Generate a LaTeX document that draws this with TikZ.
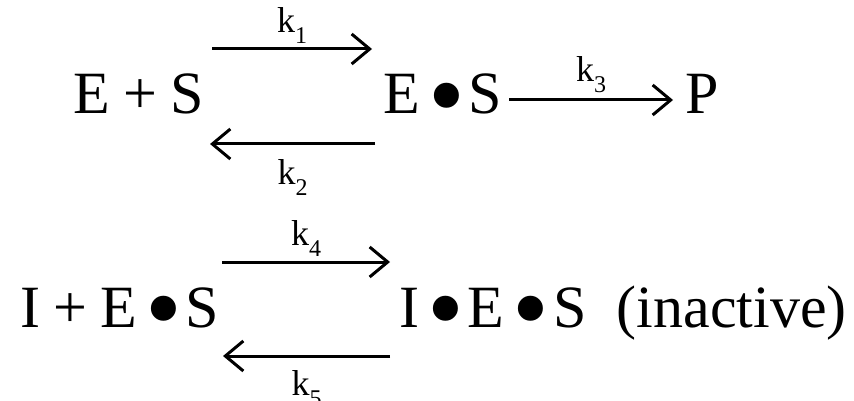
\documentclass[tikz,border=0pt]{standalone}
\usepackage{fontspec}
\setmainfont{Liberation Serif}
\usetikzlibrary{arrows.meta}
\newcommand{\pl}{\hspace{0.22em}+\hspace{0.22em}}
\newcommand{\bul}{\hspace{0.14em}\raisebox{-0.27em}{\scalebox{1.75}{\textbullet}}\hspace{0.06em}}
\newcommand{\rate}[1]{k\raisebox{-0.3em}{\fontsize{24}{24}\selectfont #1}}

\begin{document}
\begin{tikzpicture}[x=1pt,y=-1pt,>={Straight Barb[length=18pt,width=30pt]},
  species/.style={anchor=base west,inner sep=0pt,font=\fontsize{60}{72}\selectfont},
  rxn/.style={->,line width=3pt},
  rate/.style={inner sep=0pt,font=\fontsize{36}{40}\selectfont}]
  \useasboundingbox (0,0) rectangle (854,401);
  % binding of substrate, then product
  \node[species] (es) at (73,114) {E\pl S};
  \node[species] (cplx) at (383,114) {E\bul S};
  \node[species] (prod) at (685,114) {P};
  \coordinate (k1a) at (212,49);  \coordinate (k1b) at (372,49);
  \coordinate (k2a) at (375,144); \coordinate (k2b) at (210,144);
  \coordinate (k3a) at (509,100); \coordinate (k3b) at (673,100);
  \draw[rxn] (k1a) -- node[rate,above=4pt] {\rate{1}} (k1b);
  \draw[rxn] (k2a) -- node[rate,below=14pt] {\rate{2}} (k2b);
  \draw[rxn] (k3a) -- node[rate,above=6pt] {\rate{3}} (k3b);
  % inhibitor on the complex
  \node[species] (ies) at (20,327) {I\pl E\bul S};
  \node[species] (iescplx) at (399,327) {I\bul E\bul S\ \ (inactive)};
  \coordinate (k4a) at (222,262); \coordinate (k4b) at (390,262);
  \coordinate (k5a) at (390,356); \coordinate (k5b) at (223,356);
  \draw[rxn] (k4a) -- node[rate,above=4pt] {\rate{4}} (k4b);
  \draw[rxn] (k5a) -- node[rate,below=13pt] {\rate{5}} (k5b);
\end{tikzpicture}
\end{document}
